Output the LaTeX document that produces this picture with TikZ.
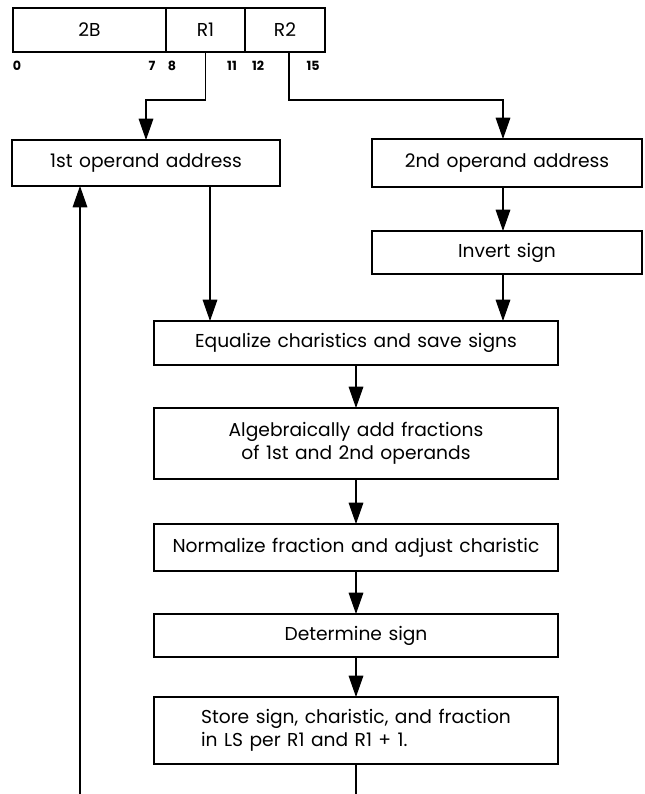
\documentclass[tikz,border=0pt]{standalone}
\usepackage{fontspec}
\setmainfont{Poppins}[WordSpace=1.3]
\usetikzlibrary{arrows.meta}
\begin{document}
\begin{tikzpicture}[x=0.75pt,y=-0.75pt,
  box/.style={draw,line width=1.5pt,rectangle,inner sep=0pt,outer sep=0pt,
    font=\fontsize{14}{17}\selectfont},
  bit/.style={font=\bfseries\fontsize{9.5}{10}\selectfont,inner sep=0pt},
  conn/.style={line width=0.8pt},
  arr/.style={conn,-{Triangle[length=16pt,width=11pt]}}]
\useasboundingbox (0,0) rectangle (644,794);

% instruction format
\node[box,minimum width=114.75pt,minimum height=33pt] (f2b) at (89.5,30) {2B};
\node[box,minimum width=59.25pt,minimum height=33pt] (fr1) at (205.5,30) {R1};
\node[box,minimum width=60pt,minimum height=33pt] (fr2) at (285,30) {R2};
\node[bit] (b0) at (17,66) {0};
\node[bit] (b7) at (152,66) {7};
\node[bit] (b8) at (172,66) {8};
\node[bit] (b11) at (232,66) {11};
\node[bit] (b12) at (258,66) {12};
\node[bit] (b15) at (313,66) {15};

% flow boxes
\node[box,minimum width=201pt,minimum height=34.5pt] (op1) at (146,163) {1st operand address};
\node[box,minimum width=202.5pt,minimum height=36pt] (op2) at (507,163) {2nd operand address};
\node[box,minimum width=202.5pt,minimum height=32.25pt] (inv) at (507,252.5) {Invert sign};
\node[box,minimum width=303pt,minimum height=33pt] (eq) at (356,343) {Equalize charistics and save signs};
\node[box,minimum width=303pt,minimum height=53.25pt,align=center] (alg) at (356,443.5)
  {Algebraically add fractions\\of 1st and 2nd operands};
\node[box,minimum width=303pt,minimum height=35.25pt] (norm) at (356,547.5) {Normalize fraction and adjust charistic};
\node[box,minimum width=303pt,minimum height=50.25pt,align=left] (st) at (356,730.5)
  {Store sign, charistic, and fraction\\in LS per R1 and R1 + 1.};
\node[box,minimum width=303pt,minimum height=32.25pt] (det) at (356,635.5) {Determine sign};

\coordinate (ret) at (80,794);
\coordinate (out) at (356,794);

% connectors
\draw[arr] (fr1.south) -- ++(0,48) -| (op1.north);
\draw[arr] ([xshift=3pt]fr2.south) -- ++(0,48) -| ([xshift=-3pt]op2.north);
\draw[arr] ([xshift=-3pt]op2.south) -- ([xshift=-3pt]inv.north);
\draw[arr] ([xshift=48pt]op1.south) -- ([xshift=48pt]op1.south |- eq.north);
\draw[arr] ([xshift=-3pt]inv.south) -- ([xshift=-3pt]inv.south |- eq.north);
\draw[arr] (eq.south) -- (alg.north);
\draw[arr] (alg.south) -- (norm.north);
\draw[arr] (norm.south) -- (det.north);
\draw[arr] (det.south) -- (st.north);
\draw[conn] (st.south) -- (out);
\draw[arr] (ret) -- (ret |- op1.south);
\end{tikzpicture}
\end{document}
